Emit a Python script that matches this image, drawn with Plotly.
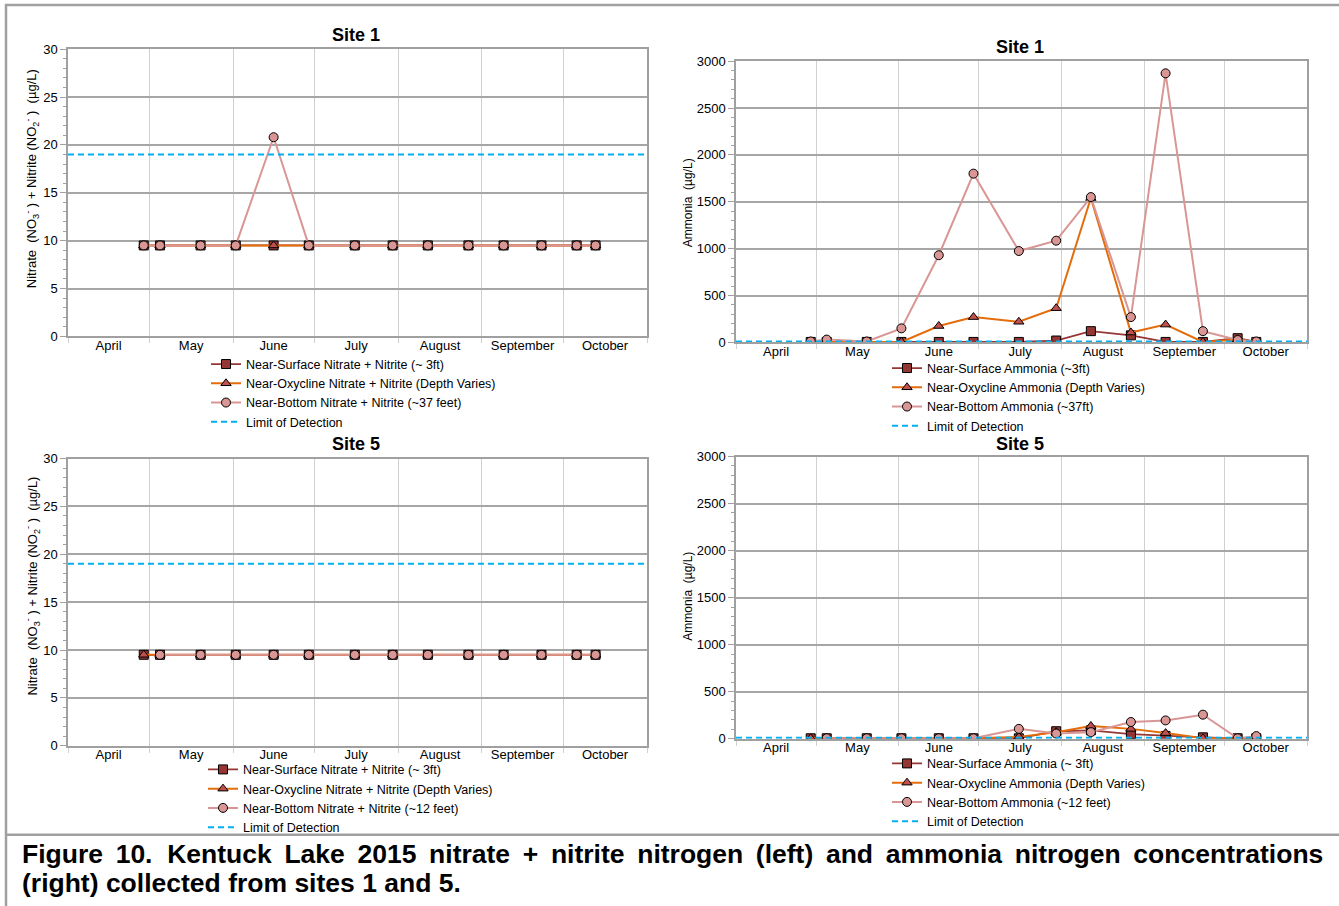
import plotly.graph_objects as go

W, H = 1339, 906

# ---------------- data ----------------
sample_dates = ["2015-04-29", "2015-05-05", "2015-05-20", "2015-06-02", "2015-06-16",
                "2015-06-29", "2015-07-16", "2015-07-30", "2015-08-12", "2015-08-27",
                "2015-09-09", "2015-09-23", "2015-10-06", "2015-10-13"]

# Site 1 nitrate + nitrite (ug/L)
n1_surface = [9.5, 9.5, 9.5, 9.5, 9.5, 9.5, 9.5, 9.5, 9.5, 9.5, 9.5, 9.5, 9.5, 9.5]
n1_oxycline = [9.5, 9.5, 9.5, 9.5, 9.5, 9.5, 9.5, 9.5, 9.5, 9.5, 9.5, 9.5, 9.5, 9.5]
n1_bottom = [9.5, 9.5, 9.5, 9.5, 20.8, 9.5, 9.5, 9.5, 9.5, 9.5, 9.5, 9.5, 9.5, 9.5]

# Site 5 nitrate + nitrite (ug/L)
n5_surface = [9.5, 9.5, 9.5, 9.5, 9.5, 9.5, 9.5, 9.5, 9.5, 9.5, 9.5, 9.5, 9.5, 9.5]
n5_oxycline = [9.5, 9.5, 9.5, 9.5, 9.5, 9.5, 9.5, 9.5, 9.5, 9.5, 9.5, 9.5, 9.5, 9.5]
n5_bottom = [None, 9.5, 9.5, 9.5, 9.5, 9.5, 9.5, 9.5, 9.5, 9.5, 9.5, 9.5, 9.5, 9.5]

# Site 1 ammonia (ug/L)
a1_surface = [5, 5, 5, 5, 5, 5, 5, 20, 120, 75, 5, 5, 45, 5]
a1_oxycline = [5, 5, 5, 5, 175, 270, 220, 365, 1540, 105, 190, 5, 30, 5]
a1_bottom = [10, 30, 10, 150, 930, 1800, 975, 1085, 1550, 270, 2870, 120, 25, 10]

# Site 5 ammonia (ug/L)
a5_surface = [5, 5, 5, 5, 5, 5, 5, 80, 90, 50, 30, 15, 5, 5]
a5_oxycline = [5, 5, 5, 5, 5, 5, 20, 70, 135, 105, 60, 5, 5, 5]
a5_bottom = [None, 5, 5, 5, 5, 5, 105, 55, 70, 178, 195, 256, 5, 28]

lod_nitrate = 19
lod_ammonia = 10

x_range = ["2015-04-01", "2015-11-01"]
nitrate_range = [0, 30]
ammonia_range = [0, 3000]

titles = ["Site 1", "Site 1", "Site 5", "Site 5"]
nitrate_names_1 = ["Near-Surface Nitrate + Nitrite (~ 3ft)",
                   "Near-Oxycline Nitrate + Nitrite (Depth Varies)",
                   "Near-Bottom Nitrate + Nitrite (~37 feet)",
                   "Limit of Detection"]
ammonia_names_1 = ["Near-Surface Ammonia (~3ft)",
                   "Near-Oxycline Ammonia (Depth Varies)",
                   "Near-Bottom Ammonia (~37ft)",
                   "Limit of Detection"]
nitrate_names_5 = ["Near-Surface Nitrate + Nitrite (~ 3ft)",
                   "Near-Oxycline Nitrate + Nitrite (Depth Varies)",
                   "Near-Bottom Nitrate + Nitrite (~12 feet)",
                   "Limit of Detection"]
ammonia_names_5 = ["Near-Surface Ammonia (~ 3ft)",
                   "Near-Oxycline Ammonia (Depth Varies)",
                   "Near-Bottom Ammonia (~12 feet)",
                   "Limit of Detection"]
nitrate_title = "Nitrate  (NO<sub>3</sub><sup>-</sup> ) + Nitrite (NO<sub>2</sub><sup>-</sup> )  (µg/L)"
ammonia_title = "Ammonia  (µg/L)"
caption_1 = "Figure 10.  Kentuck Lake 2015 nitrate + nitrite nitrogen (left) and ammonia nitrogen concentrations"
caption_2 = "(right) collected from sites 1 and 5."

# ---------------- style ----------------
FONT = "Liberation Sans, Arial, sans-serif"
C_SURF_LINE = "#953735"
C_SURF_MARK = "#943634"
C_OXY_LINE = "#E46C0A"
C_OXY_MARK = "#C0504D"
C_BOT_LINE = "#D99694"
C_BOT_MARK = "#D99694"
C_LOD = "#00B0F0"
GRID_H = "#A6A6A6"
GRID_V = "#D0D0D0"
FRAME = "#A0A0A0"

# observed vertical mapping of the rendered page
TOP_OFF = 7.9
H_EFF = 890.2


def px(xp):
    return xp / W


def py(yp):
    return 1 - (yp - TOP_OFF) / H_EFF


fig = go.Figure()

panels = [
    # (xaxis, yaxis, legend, values, names, lod, yrange, plot box (l, r, t, b), legend pos, y-title (text, x, y))
    ("x", "y", "legend", (n1_surface, n1_oxycline, n1_bottom), nitrate_names_1, lod_nitrate, nitrate_range,
     (68, 647, 50, 337), (206, 350), (nitrate_title, 32, 180)),
    ("x2", "y2", "legend2", (a1_surface, a1_oxycline, a1_bottom), ammonia_names_1, lod_ammonia, ammonia_range,
     (736, 1307, 62, 343), (887, 354), (ammonia_title, 688, 204)),
    ("x3", "y3", "legend3", (n5_surface, n5_oxycline, n5_bottom), nitrate_names_5, lod_nitrate, nitrate_range,
     (68, 647, 459, 746), (203, 755), (nitrate_title, 32, 587)),
    ("x4", "y4", "legend4", (a5_surface, a5_oxycline, a5_bottom), ammonia_names_5, lod_ammonia, ammonia_range,
     (736, 1307, 457, 739), (887, 749), (ammonia_title, 688, 597)),
]

styles = [
    dict(line=dict(color=C_SURF_LINE, width=1.8),
         marker=dict(symbol="square", size=9, color=C_SURF_MARK, line=dict(color="#000000", width=1))),
    dict(line=dict(color=C_OXY_LINE, width=2),
         marker=dict(symbol="triangle-up", size=9, color=C_OXY_MARK, line=dict(color="#000000", width=1))),
    dict(line=dict(color=C_BOT_LINE, width=2),
         marker=dict(symbol="circle", size=9, color=C_BOT_MARK, line=dict(color="#000000", width=1))),
]

layout_axes = {}
legends = {}
annotations = []
for i, (xa, ya, lg, vals, names, lod, yr, dom, lpos, ytl) in enumerate(panels):
    for s, v, nm in zip(styles, vals, names[:3]):
        fig.add_trace(go.Scatter(x=sample_dates, y=v, name=nm, mode="lines+markers",
                                 xaxis=xa, yaxis=ya, legend=lg, connectgaps=False, **s))
    fig.add_trace(go.Scatter(x=x_range, y=[lod, lod], name=names[3], mode="lines",
                             line=dict(color=C_LOD, width=2, dash="6px,4px"),
                             xaxis=xa, yaxis=ya, legend=lg, cliponaxis=False))
    x0, x1, y0, y1 = dom
    xkey = "xaxis" if xa == "x" else "xaxis" + xa[1:]
    ykey = "yaxis" if ya == "y" else "yaxis" + ya[1:]
    is_nitrate = yr[1] == 30
    layout_axes[xkey] = dict(
        domain=[px(x0), px(x1)], anchor=ya, type="date", range=x_range,
        dtick="M1", tick0="2015-04-01", tickformat="%B", ticklabelmode="period",
        showgrid=True, gridcolor=GRID_V, gridwidth=1,
        ticks="outside", ticklen=5, tickcolor=GRID_V, ticklabelstandoff=-9,
        showline=True, linecolor=FRAME, linewidth=1.5, mirror=True,
        tickfont=dict(family=FONT, size=13, color="#000000"), zeroline=False,
    )
    dt, mdt = (5, 1) if is_nitrate else (500, 100)
    layout_axes[ykey] = dict(
        domain=[py(y1), py(y0)], anchor=xa, range=yr, dtick=dt,
        showgrid=True, gridcolor=GRID_H, gridwidth=1.6,
        ticks="outside", ticklen=6, tickcolor=FRAME,
        minor=dict(dtick=mdt, ticks="outside", ticklen=3, tickcolor=FRAME, showgrid=False),
        showline=True, linecolor=FRAME, linewidth=1.5, mirror=True,
        tickfont=dict(family=FONT, size=13, color="#000000"), zeroline=False,
    )
    legends[lg] = dict(x=px(lpos[0]), y=py(lpos[1]), xanchor="left", yanchor="top",
                       bgcolor="rgba(0,0,0,0)", font=dict(family=FONT, size=12.5, color="#000000"),
                       itemwidth=30, tracegroupgap=0, traceorder="normal")
    annotations.append(dict(text=ytl[0], x=px(ytl[1]), y=py(ytl[2]), xref="paper", yref="paper",
                            showarrow=False, textangle=-90, xanchor="center", yanchor="middle",
                            font=dict(family=FONT, size=13 if is_nitrate else 12, color="#000000")))

title_pos = [(356, 36), (1020, 48), (356, 445), (1020, 445)]
for t, (tx, ty) in zip(titles, title_pos):
    annotations.append(dict(text="<b>" + t + "</b>", x=px(tx), y=py(ty), xref="paper", yref="paper",
                            showarrow=False, xanchor="center", yanchor="middle",
                            font=dict(family=FONT, size=18, color="#000000")))

# widen word gaps slightly to imitate the justified first caption line
cap_words = caption_1.split(" ")
cap1_justified = ""
for k, wd in enumerate(cap_words):
    if k > 0:
        if wd == "" or cap_words[k - 1] == "":
            cap1_justified += "&nbsp;"
        else:
            cap1_justified += " \u2009"
    cap1_justified += wd
annotations.append(dict(text="<b>" + cap1_justified + "</b>", x=px(20), y=py(854), xref="paper", yref="paper",
                        showarrow=False, xanchor="left", yanchor="middle",
                        font=dict(family=FONT, size=26.5, color="#000000")))
annotations.append(dict(text="<b>" + caption_2 + "</b>", x=px(20), y=py(883), xref="paper", yref="paper",
                        showarrow=False, xanchor="left", yanchor="middle",
                        font=dict(family=FONT, size=26.5, color="#000000")))

shapes = [
    dict(type="line", xref="paper", yref="paper", x0=px(5), x1=1, y0=py(6), y1=py(6),
         line=dict(color=FRAME, width=2.5)),
    dict(type="line", xref="paper", yref="paper", x0=px(6), x1=px(6), y0=py(5), y1=py(906),
         line=dict(color=FRAME, width=2.5)),
    dict(type="line", xref="paper", yref="paper", x0=px(5), x1=1, y0=py(835), y1=py(835),
         line=dict(color=FRAME, width=2.5)),
]

fig.update_layout(
    width=W, height=H, autosize=False,
    margin=dict(l=0, r=0, t=0, b=0),
    paper_bgcolor="#FFFFFF", plot_bgcolor="#FFFFFF",
    showlegend=True,
    annotations=annotations, shapes=shapes,
    **layout_axes, **legends,
)

fig.write_html("out.html")
